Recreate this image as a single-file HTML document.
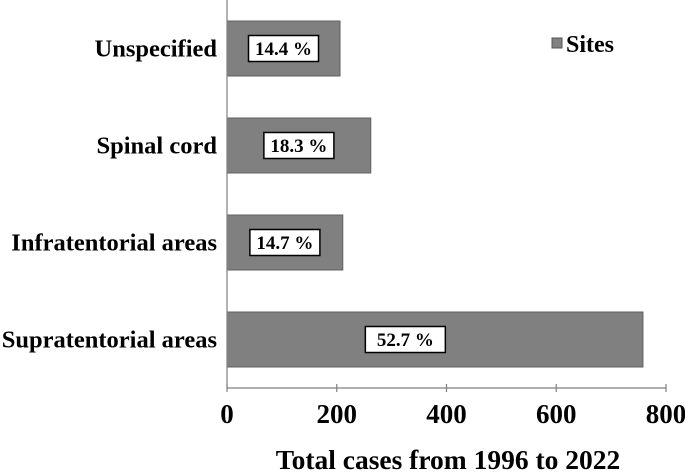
<!DOCTYPE html>
<html><head><meta charset="utf-8"><style>
html,body{margin:0;padding:0;background:#fff;}
svg text{font-family:"Liberation Serif",serif;font-weight:bold;fill:#000;}
</style></head><body>
<svg id="chart" width="685" height="470">
<g id="plot"></g>
<g>
<rect x="552" y="38" width="10" height="10" fill="#808080" stroke="#555"/>
<text x="566" y="52" font-size="24">Sites</text>
</g>
<text x="448" y="469" font-size="27.5" text-anchor="middle">Total cases from 1996 to 2022</text>
</svg>
<script>
const categories = ["Unspecified","Spinal cord","Infratentorial areas","Supratentorial areas"];
const values = [206, 262, 211, 758];
const percentLabels = ["14.4 %","18.3 %","14.7 %","52.7 %"];
const ticks = [0,200,400,600,800];
const NS="http://www.w3.org/2000/svg";
const g=document.getElementById('plot');
const x0=227, x1=666, xmax=800;
const x=v=>x0+(v/xmax)*(x1-x0);
const yTop=0, yBot=388, n=categories.length;
const band=(yBot-yTop)/n;
const yc=i=>yTop+band*(i+0.5);
function mk(t,a){const e=document.createElementNS(NS,t);for(const k in a)e.setAttribute(k,a[k]);g.appendChild(e);return e;}
categories.forEach((c,i)=>{
  const cy=yc(i), h=55;
  const r=mk('rect',{x:x(0),y:cy-h/2,width:x(values[i])-x(0),height:h,fill:'#808080',stroke:'#606060','stroke-width':1});
  
  
  const t=mk('text',{x:x0-10,y:cy+8,'font-size':24.5,'text-anchor':'end'});t.textContent=c;
  
  
  const lx=x(Math.min(values[i]/2,325)), bw=i==3?80:70;
  const b=mk('rect',{x:lx-bw/2,y:cy-13,width:bw,height:26,fill:'#fff',stroke:'#000','stroke-width':1.5});
  
  
  const lt=mk('text',{x:lx,y:cy+6.5,'font-size':19,'text-anchor':'middle'});lt.textContent=percentLabels[i];
  
  
});
const ya=mk('line',{x1:x0,y1:0,x2:x0,y2:yBot,stroke:'#808080','stroke-width':1.2});


const xa=mk('line',{x1:x0,y1:yBot,x2:x1,y2:yBot,stroke:'#808080','stroke-width':1.2});


ticks.forEach(v=>{
  const tk=mk('line',{x1:x(v),y1:yBot-4,x2:x(v),y2:yBot+4,stroke:'#808080','stroke-width':1.2});
  
  
  const tl=mk('text',{x:x(v),y:yBot+35,'font-size':27,'text-anchor':'middle'});tl.textContent=v;
  
  
});
</script>
</body></html>
